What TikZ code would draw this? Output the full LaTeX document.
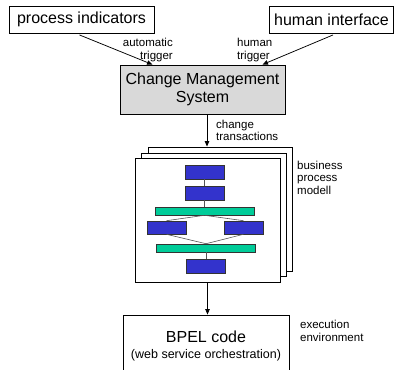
\documentclass[tikz,border=0pt]{standalone}
\usepackage{fontspec}
\setmainfont{Liberation Sans}
\usetikzlibrary{arrows.meta,calc}
\definecolor{bpblue}{HTML}{3333CC}
\definecolor{bpgreen}{HTML}{00CC99}
\definecolor{cmsgray}{HTML}{D9D9D9}
\definecolor{flowline}{HTML}{555555}
\begin{document}
\begin{tikzpicture}[x=1pt,y=-1pt,
  box/.style={draw=black, line width=0.9pt, inner sep=0pt, align=center, font=\fontsize{16}{18}\selectfont},
  page/.style={draw=black, line width=0.9pt, fill=white, inner sep=0pt},
  lbl/.style={inner sep=0pt, font=\fontsize{11.5}{12.5}\selectfont},
  arr/.style={-{Triangle[length=5.5pt,width=4.5pt]}, line width=0.75pt},
  bluebox/.style={draw=black!80, line width=0.6pt, fill=bpblue, inner sep=0pt},
  greenbar/.style={draw=black!80, line width=0.6pt, fill=bpgreen, inner sep=0pt},
  flow/.style={draw=flowline, line width=0.6pt}
]
\useasboundingbox (0,0) rectangle (395,369);
\clip (0,0) rectangle (395,369);

% top boxes
\node[box, minimum width=145pt, minimum height=27pt] (pi) at (81.5,19.5) {process indicators};
\node[box, minimum width=124pt, minimum height=27pt] (hi) at (331.5,19.5) {human interface};

% change management system
\node[box, fill=cmsgray, minimum width=165pt, minimum height=49pt] (cms) at (202.5,89.5) {Change Management\\System};

% trigger arrows
\draw[arr] ($(pi.south)+(-2,1.5)$) -- ($(cms.north)+(-50,0)$);
\draw[arr] ($(hi.south)+(1.5,1.5)$) -- ($(cms.north)+(60,0)$);
\node[lbl, anchor=north east, align=right] (lauto) at (173,38) {automatic\\trigger};
\node[lbl, anchor=north west, align=left] (lhum) at (237,38) {human\\trigger};

% stacked pages
\node[page, minimum width=144pt, minimum height=124pt] (back) at (220,209) {};
\node[page, minimum width=145pt, minimum height=123pt] (mid) at (213.5,214.5) {};
\node[page, minimum width=145pt, minimum height=124pt] (front) at (207.5,220) {};

% change transactions arrow
\coordinate (c1) at (207,114.5);
\draw[arr] (c1) -- (c1 |- back.north);
\node[lbl, anchor=north west, align=left] (lchg) at (216,119.5) {change\\transactions};
\node[lbl, anchor=north west, align=left] (lbpm) at (297,160.5) {business\\process\\modell};

% process model content
\node[bluebox, minimum width=39pt, minimum height=14pt] (b1) at (204.5,172) {};
\node[bluebox, minimum width=39pt, minimum height=14pt] (b2) at (204.5,193) {};
\node[greenbar, minimum width=99pt, minimum height=8pt] (g1) at (204.5,211) {};
\node[bluebox, minimum width=39pt, minimum height=13pt] (b3) at (166.5,227.5) {};
\node[bluebox, minimum width=39pt, minimum height=13pt] (b4) at (243.5,227.5) {};
\node[greenbar, minimum width=99pt, minimum height=8pt] (g2) at (206,248) {};
\node[bluebox, minimum width=39pt, minimum height=14pt] (b5) at (206,266) {};
\draw[flow] (b1.south) -- (b2.north);
\draw[flow] (b2.south) -- (g1.north);
\draw[flow] (g1.south) -- (b3.north);
\draw[flow] (g1.south) -- (b4.north);
\draw[flow] (b3.south) -- (g2.north);
\draw[flow] (b4.south) -- (g2.north);
\draw[flow] (g2.south) -- (b5.north);

% BPEL box
\node[box, minimum width=166pt, minimum height=70pt] (bpel) at (206,350) {};
\node[inner sep=0pt, font=\fontsize{16}{18}\selectfont] (bpel1) at (206,337) {BPEL code};
\node[inner sep=0pt, font=\fontsize{12.5}{14}\selectfont] (bpel2) at (206,355) {(web service orchestration)};
\draw[arr] (front.south) -- (front.south |- bpel.north);
\node[lbl, anchor=north west, align=left] (lexe) at (300,320) {execution\\environment};
\end{tikzpicture}
\end{document}
